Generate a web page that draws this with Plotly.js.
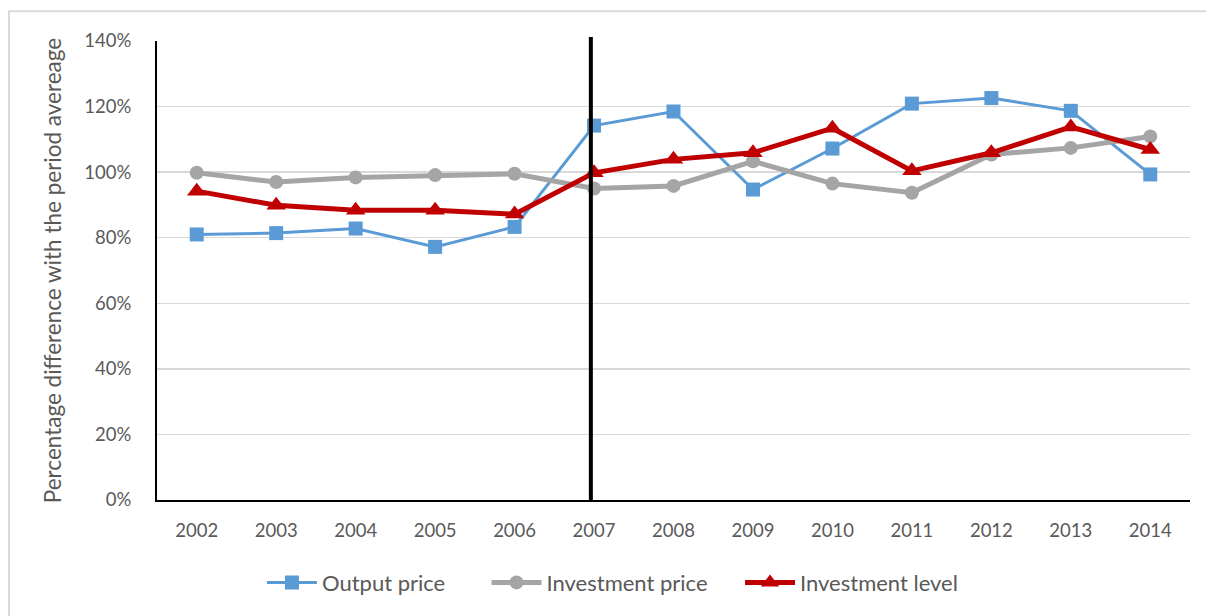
<!DOCTYPE html>
<html>
<head>
<meta charset="utf-8">
<script src="https://cdn.plot.ly/plotly-3.0.1.min.js"></script>
<style>html,body{margin:0;padding:0;background:#fff;}#chart{width:1206px;height:616px;}</style>
</head>
<body>
<div id="chart"></div>
<script>
const years = ['2002','2003','2004','2005','2006','2007','2008','2009','2010','2011','2012','2013','2014'];
const outputPrice = [81.0, 81.4, 82.8, 77.2, 83.3, 114.2, 118.5, 94.7, 107.2, 120.9, 122.6, 118.7, 99.3];
const investmentPrice = [99.8, 97.0, 98.4, 99.1, 99.5, 95.0, 95.8, 103.3, 96.5, 93.7, 105.4, 107.4, 110.9];
const investmentLevel = [94.2, 89.9, 88.4, 88.4, 87.2, 99.8, 103.9, 105.9, 113.4, 100.4, 105.9, 113.8, 106.9];
const seriesNames = ['Output price', 'Investment price', 'Investment level'];
const breakYear = 4.96; // position of the vertical separator (category index, just before 2007)

const fontFam = 'Lato, "Open Sans", sans-serif';
const txt = '#595959';

const traces = [
  {x: years, y: outputPrice, name: seriesNames[0], type: 'scatter', mode: 'lines+markers', legend: 'legend',
   line: {color: '#5B9BD5', width: 3}, marker: {symbol: 'square', size: 14, color: '#5B9BD5'}},
  {x: years, y: investmentPrice, name: seriesNames[1], type: 'scatter', mode: 'lines+markers', legend: 'legend2',
   line: {color: '#A5A5A5', width: 5}, marker: {symbol: 'circle', size: 14, color: '#A5A5A5'}},
  {x: years, y: investmentLevel, name: seriesNames[2], type: 'scatter', mode: 'lines+markers', legend: 'legend3',
   line: {color: '#C00000', width: 5}, marker: {symbol: 'triangle-up', size: 17, color: '#C00000'}}
];

function leg(x) {
  return {orientation: 'h', x: x, xanchor: 'left', y: -0.18, yanchor: 'middle', bgcolor: 'rgba(0,0,0,0)',
          font: {family: fontFam, size: 22, color: txt}, itemwidth: 50};
}

const layout = {
  width: 1206, height: 616,
  margin: {l: 157, r: 16, t: 41, b: 114},
  paper_bgcolor: '#fff', plot_bgcolor: '#fff',
  font: {family: fontFam, size: 18.5, color: txt},
  showlegend: true,
  legend: leg(0.1016), legend2: leg(0.319), legend3: leg(0.5644),
  xaxis: {type: 'category', range: [-0.5, 12.5], showgrid: false, zeroline: false,
          showline: true, linecolor: '#000', linewidth: 2, ticks: '', ticklabelstandoff: 13,
          tickfont: {family: fontFam, size: 18.5, color: txt}, fixedrange: true},
  yaxis: {range: [0, 140], dtick: 20, ticksuffix: '%', showgrid: true, gridcolor: '#d9d9d9', gridwidth: 1.5,
          zeroline: false, showline: true, linecolor: '#000', linewidth: 2, ticks: '', ticklabelstandoff: 20,
          tickfont: {family: fontFam, size: 18.5, color: txt}, fixedrange: true,
          title: {text: 'Percentage difference with the period avereage', standoff: 16,
                  font: {family: fontFam, size: 22.5, color: txt}}},
  shapes: [
    {type: 'line', xref: 'x', yref: 'paper', x0: breakYear, x1: breakYear, y0: 0, y1: 1.0087,
     line: {color: '#000', width: 4}},
    {type: 'rect', xref: 'paper', yref: 'paper', x0: -0.1433, x1: 1.03, y0: -0.3, y1: 1.065,
     line: {color: '#d9d9d9', width: 2}, fillcolor: 'rgba(0,0,0,0)', layer: 'below'}
  ]
};

Plotly.newPlot('chart', traces, layout, {displayModeBar: false, staticPlot: true});
</script>
</body>
</html>
